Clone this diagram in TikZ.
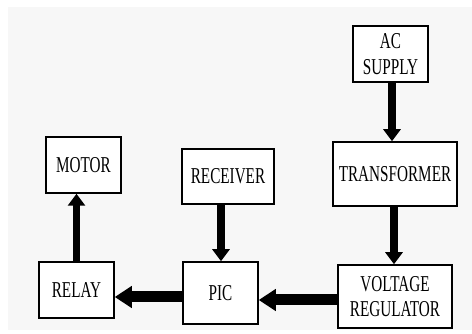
\documentclass[tikz,border=0pt]{standalone}
\usepackage{fontspec}
\setmainfont{Liberation Serif}[FakeStretch=0.67]
\usetikzlibrary{arrows.meta}
\begin{document}
\begin{tikzpicture}[x=1pt,y=-1pt,
  blk/.style={draw=black,line width=1.5pt,fill=white,align=center,inner sep=0pt,
    font=\fontsize{22.7}{25.5}\selectfont},
  varrow/.style={line width=7.5pt,-{Triangle[width=17pt,length=12pt]}},
  harrow/.style={line width=11pt,-{Triangle[width=21pt,length=17pt]}}]
\useasboundingbox (0,0) rectangle (472,334);
\fill[white] (0,0) rectangle (472,334);
\fill[black!3] (8,7) rectangle (472,330);
\node[blk,minimum width=75pt,minimum height=56pt] (ac) at (390.5,54) {AC\\SUPPLY};
\node[blk,minimum width=124pt,minimum height=64pt] (tr) at (395,174) {TRANSFORMER};
\node[blk,minimum width=114pt,minimum height=63pt] (vr) at (395,296.5) {VOLTAGE\\REGULATOR};
\node[blk,minimum width=75pt,minimum height=62pt] (pic) at (220.5,293) {PIC};
\node[blk,minimum width=75pt,minimum height=56pt] (relay) at (76.5,290) {RELAY};
\node[blk,minimum width=75pt,minimum height=56pt] (motor) at (83.5,165) {MOTOR};
\node[blk,minimum width=92pt,minimum height=55pt] (rx) at (228,176.5) {RECEIVER};
\draw[varrow] ([xshift=1.5pt]ac.south) -- ([xshift=1.5pt]ac.south |- tr.north);
\draw[varrow] ([xshift=-1pt]tr.south) -- ([xshift=-1pt]tr.south |- vr.north);
\draw[varrow] ([xshift=-7pt]rx.south) -- ([xshift=-7pt]rx.south |- pic.north);
\draw[varrow] (relay.north) -- (relay.north |- motor.south);
\draw[harrow] ([yshift=-3.5pt]vr.west) -- ([yshift=-3.5pt]vr.west -| pic.east);
\draw[harrow] ([yshift=-4pt]pic.west) -- ([yshift=-4pt]pic.west -| relay.east);
\end{tikzpicture}
\end{document}
